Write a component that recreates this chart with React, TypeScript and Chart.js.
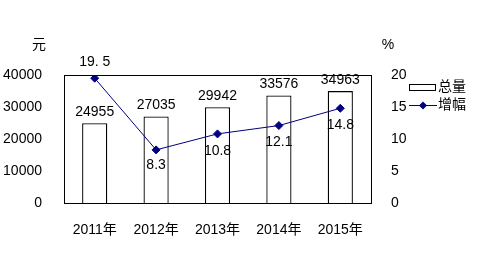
import React, { useEffect, useRef } from "react";
import { Chart, registerables } from "chart.js";

Chart.register(...registerables);

const categories = ["2011年", "2012年", "2013年", "2014年", "2015年"];
const totals = [24955, 27035, 29942, 33576, 34963];
const growth = [19.5, 8.3, 10.8, 12.1, 14.8];
const growthLabels = ["19. 5", "8.3", "10.8", "12.1", "14.8"];
const leftTicks = [0, 10000, 20000, 30000, 40000];
const rightTicks = [0, 5, 10, 15, 20];
const FONT = "Arial, 'Liberation Sans', 'Noto Sans CJK SC', sans-serif";

const decorPlugin = {
  id: "decor",
  afterDatasetsDraw(chart: any) {
    const ctx = chart.ctx;
    const a = chart.chartArea;
    ctx.save();
    ctx.strokeStyle = "#000";
    ctx.lineWidth = 1;
    ctx.strokeRect(Math.round(a.left) + 0.5, Math.round(a.top) + 0.5, Math.round(a.right - a.left), Math.round(a.bottom - a.top));
    ctx.fillStyle = "#000";
    ctx.font = "14px " + FONT;
    ctx.textAlign = "center";
    ctx.textBaseline = "middle";
    const barMeta = chart.getDatasetMeta(0);
    barMeta.data.forEach((el: any, i: number) => {
      ctx.fillText(String(totals[i]), el.x, el.y - 11);
    });
    const lineMeta = chart.getDatasetMeta(1);
    lineMeta.data.forEach((el: any, i: number) => {
      const dy = i === 0 ? -16 : i === 1 ? 15 : 17;
      ctx.fillText(growthLabels[i], el.x, el.y + dy);
    });
    ctx.fillText("元", 39, 45);
    ctx.fillText("%", 388, 45);
    ctx.textAlign = "left";
    ctx.fillStyle = "#fff";
    ctx.fillRect(409.5, 84.5, 26, 6);
    ctx.strokeRect(409.5, 84.5, 26, 6);
    ctx.fillStyle = "#000";
    ctx.fillText("总量", 438, 87.5);
    ctx.strokeStyle = "#000080";
    ctx.beginPath();
    ctx.moveTo(409, 105.5);
    ctx.lineTo(437, 105.5);
    ctx.stroke();
    ctx.fillStyle = "#000080";
    ctx.beginPath();
    ctx.moveTo(423, 101.5);
    ctx.lineTo(427, 105.5);
    ctx.lineTo(423, 109.5);
    ctx.lineTo(419, 105.5);
    ctx.closePath();
    ctx.fill();
    ctx.fillStyle = "#000";
    ctx.fillText("增幅", 438, 105.5);
    ctx.restore();
  },
};

export default function App() {
  const ref = useRef<HTMLCanvasElement>(null);
  useEffect(() => {
    if (!ref.current) return;
    const chart = new Chart(ref.current, {
      type: "bar",
      data: {
        labels: categories,
        datasets: [
          {
            type: "bar",
            data: totals,
            backgroundColor: "#fff",
            borderColor: "#000",
            borderWidth: 1.3,
            barPercentage: 0.41,
            categoryPercentage: 1,
            yAxisID: "y",
            order: 2,
          },
          {
            type: "line",
            data: growth,
            borderColor: "#000080",
            backgroundColor: "#000080",
            borderWidth: 1,
            pointStyle: "rectRot",
            pointRadius: 4,
            pointBackgroundColor: "#000080",
            pointBorderColor: "#000080",
            tension: 0,
            yAxisID: "y1",
            order: 1,
          } as any,
        ],
      },
      options: {
        animation: false,
        responsive: false,
        devicePixelRatio: 1,
        layout: { padding: { top: 75, left: 0, right: 0, bottom: 0 } },
        plugins: { legend: { display: false }, tooltip: { enabled: false } },
        scales: {
          x: {
            grid: { display: false },
            border: { display: false },
            ticks: { color: "#000", font: { size: 14, family: FONT }, padding: 11 },
            afterFit: (s: any) => { s.height = 70; },
          },
          y: {
            position: "left",
            min: 0,
            max: 40000,
            afterBuildTicks: (s: any) => { s.ticks = leftTicks.map((v) => ({ value: v })); },
            grid: { display: false },
            border: { display: false },
            ticks: { color: "#000", font: { size: 14, family: FONT }, padding: 14, callback: (v: any) => String(v) },
            afterFit: (s: any) => { s.width = 64; },
          },
          y1: {
            position: "right",
            min: 0,
            max: 20,
            afterBuildTicks: (s: any) => { s.ticks = rightTicks.map((v) => ({ value: v })); },
            grid: { display: false },
            border: { display: false },
            ticks: { color: "#000", font: { size: 14, family: FONT }, padding: 12, callback: (v: any) => String(v) },
            afterFit: (s: any) => { s.width = 115; },
          },
        },
      },
      plugins: [decorPlugin],
    });
    return () => chart.destroy();
  }, []);
  return (
    <div style={{ position: "absolute", left: 0, top: 0, width: 486, height: 273, background: "#fff" }}>
      <canvas ref={ref} width={486} height={273} style={{ width: 486, height: 273 }} />
    </div>
  );
}
